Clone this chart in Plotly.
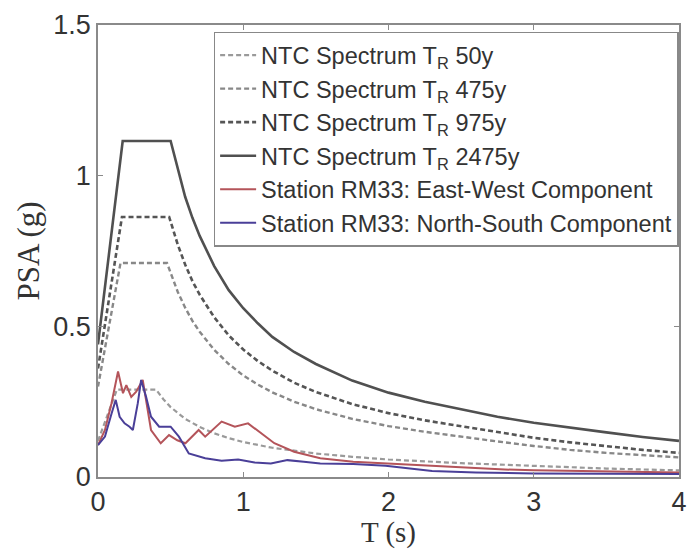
import plotly.graph_objects as go

# ---- NTC design spectra ----
T_ntc_2475 = [0.0, 0.17, 0.50, 0.55, 0.6, 0.65, 0.7, 0.8, 0.9, 1.0, 1.1, 1.2, 1.35, 1.5, 1.75,
              2.0, 2.25, 2.5, 2.75, 3.0, 3.25, 3.5, 3.75, 4.0]
psa_2475 = [0.44, 1.115, 1.115, 1.02, 0.93, 0.86, 0.80, 0.70, 0.62, 0.56, 0.51, 0.465, 0.415, 0.375, 0.32,
            0.28, 0.25, 0.225, 0.20, 0.18, 0.163, 0.148, 0.133, 0.12]

T_ntc_975 = [0.0, 0.165, 0.49, 0.55, 0.6, 0.65, 0.7, 0.8, 0.9, 1.0, 1.1, 1.2, 1.35, 1.5, 1.75,
             2.0, 2.25, 2.5, 2.75, 3.0, 3.25, 3.5, 3.75, 4.0]
psa_975 = [0.36, 0.863, 0.863, 0.77, 0.705, 0.65, 0.605, 0.53, 0.47, 0.423, 0.385, 0.353, 0.313, 0.282, 0.242,
           0.212, 0.188, 0.168, 0.148, 0.13, 0.115, 0.102, 0.09, 0.08]

T_ntc_475 = [0.0, 0.155, 0.475, 0.55, 0.6, 0.65, 0.7, 0.8, 0.9, 1.0, 1.1, 1.2, 1.35, 1.5, 1.75,
             2.0, 2.25, 2.5, 2.75, 3.0, 3.25, 3.5, 3.75, 4.0]
psa_475 = [0.30, 0.71, 0.71, 0.613, 0.562, 0.518, 0.482, 0.422, 0.375, 0.337, 0.307, 0.281, 0.25, 0.225, 0.193,
           0.169, 0.15, 0.133, 0.118, 0.103, 0.09, 0.08, 0.072, 0.065]

T_ntc_50 = [0.0, 0.13, 0.40, 0.45, 0.5, 0.55, 0.6, 0.7, 0.8, 0.9, 1.0, 1.2, 1.5, 1.75, 2.0, 2.5,
            3.0, 3.5, 4.0]
psa_50 = [0.12, 0.29, 0.29, 0.258, 0.232, 0.211, 0.193, 0.166, 0.145, 0.129, 0.116, 0.097, 0.078, 0.067,
          0.058, 0.046, 0.036, 0.028, 0.022]

# ---- Station RM33 recorded spectra ----
T_ew = [0.0, 0.048, 0.093, 0.138, 0.172, 0.195, 0.229, 0.263, 0.308, 0.365, 0.432, 0.489,
        0.546, 0.602, 0.693, 0.738, 0.851, 0.942, 1.033, 1.123, 1.214, 1.35, 1.53, 1.757,
        1.98, 2.2, 2.5, 2.8, 3.0, 3.5, 4.0]
psa_ew = [0.106, 0.156, 0.245, 0.35, 0.278, 0.305, 0.266, 0.283, 0.322, 0.156, 0.112, 0.139,
          0.122, 0.112, 0.156, 0.134, 0.184, 0.167, 0.178, 0.145, 0.112, 0.084, 0.062, 0.051,
          0.045, 0.04, 0.033, 0.025, 0.022, 0.018, 0.015]

T_ns = [0.0, 0.048, 0.093, 0.122, 0.149, 0.183, 0.217, 0.24, 0.274, 0.297, 0.331, 0.365,
        0.421, 0.5, 0.557, 0.625, 0.738, 0.851, 0.965, 1.078, 1.19, 1.304, 1.417, 1.53,
        1.757, 1.98, 2.3, 2.6, 3.0, 3.5, 4.0]
psa_ns = [0.106, 0.134, 0.21, 0.256, 0.2, 0.178, 0.167, 0.156, 0.245, 0.322, 0.266, 0.2,
          0.167, 0.167, 0.134, 0.078, 0.062, 0.054, 0.058, 0.048, 0.045, 0.056, 0.051, 0.045,
          0.043, 0.037, 0.02, 0.015, 0.012, 0.011, 0.01]

names = [
    "NTC Spectrum T<sub>R</sub> 50y",
    "NTC Spectrum T<sub>R</sub> 475y",
    "NTC Spectrum T<sub>R</sub> 975y",
    "NTC Spectrum T<sub>R</sub> 2475y",
    "Station RM33: East-West Component",
    "Station RM33: North-South Component",
]

fig = go.Figure()
fig.add_trace(go.Scatter(x=T_ntc_50, y=psa_50, mode="lines", name=names[0], legendgroup="g1",
                         line=dict(color="#9a9a9a", width=2.2, dash="5px,3px")))
fig.add_trace(go.Scatter(x=T_ntc_475, y=psa_475, mode="lines", name=names[1], legendgroup="g2",
                         line=dict(color="#888888", width=2.4, dash="5px,3px")))
fig.add_trace(go.Scatter(x=T_ntc_975, y=psa_975, mode="lines", name=names[2], legendgroup="g3",
                         line=dict(color="#555555", width=2.6, dash="5px,3px")))
fig.add_trace(go.Scatter(x=T_ntc_2475, y=psa_2475, mode="lines", name=names[3], legendgroup="g4",
                         line=dict(color="#505050", width=2.6)))
fig.add_trace(go.Scatter(x=T_ew, y=psa_ew, mode="lines", name=names[4], legendgroup="g5",
                         line=dict(color="#b4545a", width=2)))
fig.add_trace(go.Scatter(x=T_ns, y=psa_ns, mode="lines", name=names[5], legendgroup="g5",
                         line=dict(color="#4a3f98", width=2)))

axis_common = dict(
    showgrid=False, zeroline=False, showline=True, linecolor="#8a8a8a", linewidth=1.5,
    mirror="ticks", ticks="inside", ticklen=5, tickcolor="#8a8a8a",
    tickfont=dict(family="Liberation Sans, Arial, sans-serif", size=27, color="#333333"),
)

fig.update_layout(
    width=690, height=549,
    margin=dict(l=98, r=3, t=25, b=72),
    paper_bgcolor="white", plot_bgcolor="white",
    showlegend=True,
    legend=dict(
        x=0.199, y=0.985, xanchor="left", yanchor="top",
        bgcolor="white", bordercolor="#888888", borderwidth=1.5,
        font=dict(family="Liberation Sans, Arial, sans-serif", size=23.5, color="#333333"),
        tracegroupgap=5, itemwidth=36, traceorder="normal",
    ),
    xaxis=dict(range=[0, 4], tickvals=[0, 1, 2, 3, 4], ticklabeloverflow="allow",
               title=dict(text="T (s)", standoff=2,
                          font=dict(family="Liberation Serif, Times New Roman, serif", size=29, color="#333333")),
               **axis_common),
    yaxis=dict(range=[0, 1.5], tickvals=[0, 0.5, 1, 1.5],
               title=dict(text="PSA (g)", standoff=4,
                          font=dict(family="Liberation Serif, Times New Roman, serif", size=31, color="#333333")),
               **axis_common),
)

fig.write_html("out.html")
